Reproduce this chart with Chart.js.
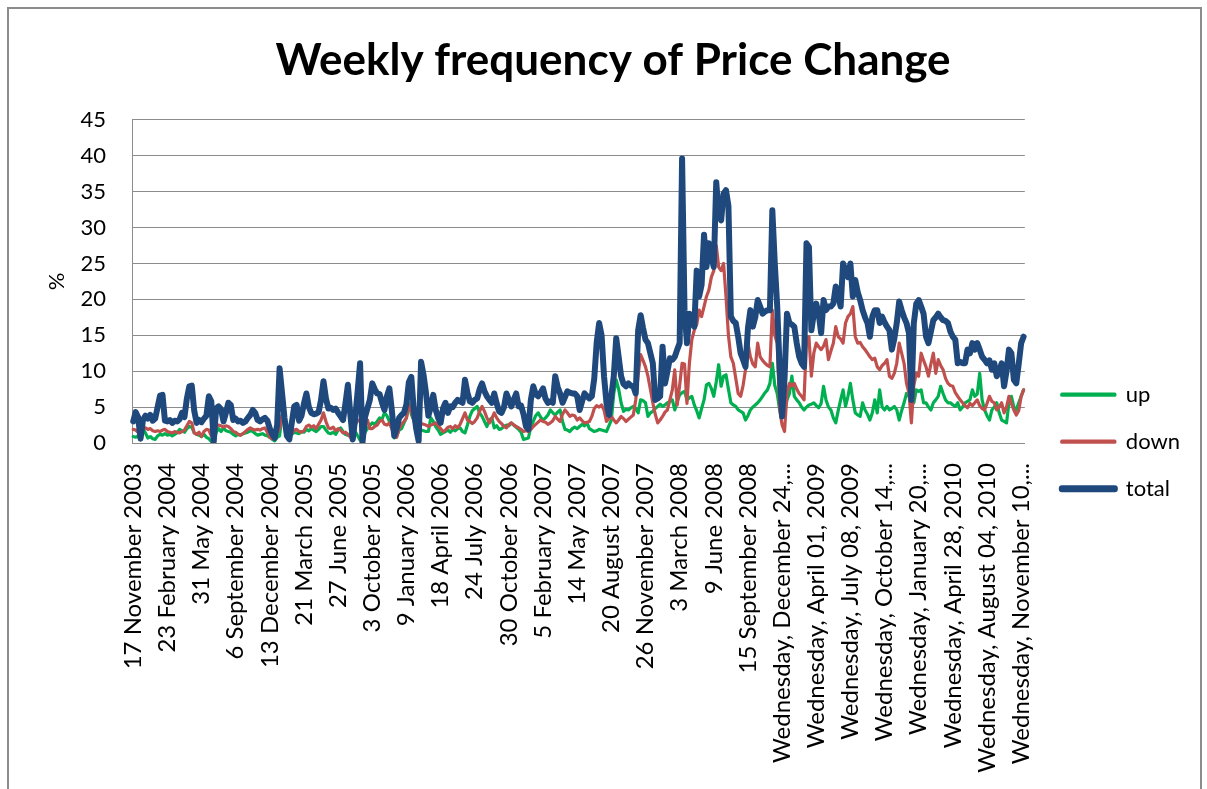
<!DOCTYPE html>
<html>
<head>
<meta charset="utf-8">
<title>Weekly frequency of Price Change</title>
<script src="https://cdn.jsdelivr.net/npm/chart.js@4.4.0/dist/chart.umd.min.js"></script>
<style>
  html, body { margin: 0; padding: 0; background: #fff; }
  body { width: 1207px; height: 789px; overflow: hidden; position: relative; }
  #frame { position: absolute; left: 7px; top: 7px; width: 1191px; height: 900px; border: 2px solid #8c8c8c; }
  #chart { position: absolute; left: 0; top: 0; }
</style>
</head>
<body>
<div id="frame"></div>
<canvas id="chart" width="1207" height="789"></canvas>
<script>
// Tick labels, one every 14 weeks
const tickLabels = [
    '17 November 2003', '23 February 2004', '31 May 2004', '6 September 2004', '13 December 2004',
    '21 March 2005', '27 June 2005', '3 October 2005', '9 January 2006', '18 April 2006',
    '24 July 2006', '30 October 2006', '5 February 2007', '14 May 2007', '20 August 2007',
    '26 November 2007', '3 March 2008', '9 June 2008', '15 September 2008',
    'Wednesday, December 24,...', 'Wednesday, April 01, 2009', 'Wednesday, July 08, 2009',
    'Wednesday, October 14,...', 'Wednesday, January 20,...', 'Wednesday, April 28, 2010',
    'Wednesday, August 04, 2010', 'Wednesday, November 10,...'
];
const tickStep = 14;

// Weekly values in % (one row = 14 weeks)
const upData = [
    0.9, 0.8, 1.0, 0.5, 2.0, 1.4, 0.7, 0.9, 0.6, 0.5, 1.0, 1.2, 1.1, 1.3,
    1.1, 1.2, 1.0, 1.2, 1.4, 1.9, 1.7, 1.5, 2.0, 2.3, 2.2, 1.4, 1.2, 1.1,
    0.9, 1.2, 0.8, 0.6, 0.2, 0.0, 1.5, 2.0, 1.6, 2.1, 1.7, 1.6, 1.5, 1.2,
    1.0, 1.2, 1.1, 1.3, 1.4, 1.5, 1.7, 1.6, 1.3, 1.1, 1.2, 1.3, 1.1, 1.0,
    0.8, 0.5, 0.3, 0.8, 1.0, 3.9, 3.5, 1.2, 1.0, 1.2, 1.5, 1.4, 1.3, 1.6,
    1.5, 1.9, 1.7, 2.0, 1.8, 1.6, 1.9, 2.3, 2.3, 1.8, 1.4, 1.3, 1.5, 1.2,
    1.8, 2.1, 1.6, 1.2, 1.1, 1.3, 1.9, 1.6, 1.0, 0.4, 0.0, 1.5, 2.0, 2.4,
    2.8, 2.6, 3.0, 3.5, 3.3, 4.2, 3.8, 3.0, 2.5, 0.7, 1.0, 1.8, 2.0, 2.8,
    3.5, 5.6, 4.0, 3.2, 2.1, 2.0, 1.8, 1.7, 1.6, 1.6, 3.5, 3.0, 2.3, 1.8,
    1.2, 1.4, 1.6, 1.8, 1.5, 1.9, 1.7, 2.0, 2.1, 1.6, 1.4, 2.5, 3.7, 4.5,
    4.8, 5.1, 4.2, 3.7, 3.0, 2.3, 3.2, 3.5, 2.1, 2.4, 1.9, 2.0, 2.3, 2.5,
    2.4, 2.8, 2.5, 2.2, 1.9, 1.5, 0.5, 0.6, 0.7, 2.3, 3.0, 3.8, 4.2, 3.6,
    3.2, 3.5, 3.9, 4.6, 4.2, 3.9, 4.3, 4.6, 3.0, 1.9, 1.8, 1.6, 2.0, 2.2,
    2.0, 2.3, 2.6, 2.4, 2.8, 2.0, 1.8, 1.6, 1.7, 1.9, 1.8, 1.7, 1.6, 2.4,
    3.2, 6.9, 8.8, 7.5, 5.6, 4.4, 4.7, 4.6, 4.9, 5.1, 4.8, 4.2, 6.0, 5.9,
    5.6, 3.7, 4.2, 4.4, 4.8, 5.1, 5.4, 5.1, 5.3, 5.6, 5.8, 6.0, 4.6, 5.8,
    6.7, 7.0, 7.2, 6.0, 6.3, 6.5, 5.3, 4.5, 3.5, 4.8, 6.0, 8.1, 8.3, 7.6,
    6.5, 8.5, 10.9, 7.9, 9.3, 9.5, 7.5, 5.6, 5.3, 5.1, 4.6, 4.4, 4.2, 3.2,
    3.8, 4.6, 5.0, 5.3, 5.6, 6.0, 6.5, 7.0, 7.4, 8.3, 11.1, 8.0, 6.9, 4.6,
    3.7, 4.0, 6.0, 6.9, 9.3, 6.5, 6.0, 5.6, 5.0, 4.6, 5.0, 5.3, 5.4, 5.6,
    5.2, 4.9, 5.5, 7.9, 6.0, 5.0, 4.6, 3.5, 2.8, 4.5, 6.0, 7.4, 5.1, 6.5,
    8.3, 6.0, 4.2, 3.9, 3.7, 5.6, 4.6, 4.0, 3.2, 4.2, 6.0, 4.2, 7.4, 5.0,
    4.6, 5.1, 4.6, 4.8, 5.1, 4.6, 3.2, 4.5, 5.6, 6.9, 6.5, 6.2, 5.6, 7.4,
    7.2, 7.4, 5.6, 5.6, 5.0, 4.6, 5.6, 6.0, 6.5, 7.9, 6.9, 6.0, 5.6, 5.6,
    5.3, 5.1, 5.6, 4.6, 5.0, 5.6, 5.8, 6.0, 7.4, 6.5, 6.8, 9.7, 6.0, 4.6,
    3.8, 3.2, 4.6, 5.0, 5.6, 4.2, 3.2, 3.0, 2.8, 5.6, 6.5, 5.0, 4.6, 5.6,
    6.5, 7.4
];

const downData = [
    1.9, 1.8, 1.5, 1.2, 2.0, 2.1, 1.9, 2.0, 1.7, 1.6, 1.7, 1.6, 1.8, 1.9,
    1.6, 1.5, 1.4, 1.6, 1.5, 1.4, 1.6, 1.8, 2.4, 3.0, 2.8, 1.4, 1.2, 1.5,
    0.9, 1.6, 1.9, 1.8, 1.0, 0.7, 2.3, 2.5, 2.4, 2.2, 2.4, 2.3, 2.0, 1.6,
    1.5, 1.2, 1.1, 1.3, 1.6, 1.9, 2.1, 1.9, 1.8, 1.9, 1.8, 2.0, 2.1, 1.5,
    0.8, 0.6, 0.5, 1.4, 2.0, 3.8, 3.2, 1.5, 1.0, 1.3, 1.8, 1.9, 1.6, 1.5,
    1.7, 2.3, 2.5, 2.2, 2.4, 2.0, 2.6, 3.2, 4.2, 3.0, 2.1, 2.0, 2.2, 1.7,
    2.0, 1.8, 1.4, 1.5, 1.2, 0.8, 0.6, 2.5, 3.2, 3.0, 3.3, 2.9, 3.2, 2.0,
    2.0, 2.3, 2.5, 3.0, 3.2, 2.6, 2.5, 2.8, 2.0, 1.0, 0.8, 2.0, 2.6, 3.0,
    3.5, 5.3, 4.5, 3.2, 3.3, 2.8, 2.7, 2.6, 2.5, 2.3, 2.5, 2.6, 2.8, 2.4,
    2.0, 1.6, 1.8, 2.2, 2.3, 2.0, 2.4, 2.1, 2.6, 3.4, 4.2, 3.2, 3.0, 2.7,
    3.0, 3.5, 4.4, 5.1, 4.4, 3.5, 2.8, 3.4, 4.2, 3.5, 3.0, 2.7, 2.3, 2.1,
    2.6, 2.8, 2.5, 2.3, 2.1, 1.9, 1.6, 1.7, 1.6, 1.9, 2.3, 2.6, 2.9, 3.2,
    3.0, 2.9, 2.6, 2.8, 3.1, 3.7, 3.3, 3.0, 4.0, 4.6, 4.2, 3.7, 3.9, 3.8,
    3.2, 3.5, 3.1, 2.8, 2.9, 3.0, 3.7, 4.8, 5.2, 5.0, 5.3, 4.6, 3.0, 3.4,
    3.7, 3.2, 2.8, 3.2, 3.7, 3.4, 3.0, 3.3, 3.6, 3.9, 6.0, 9.5, 12.3, 11.5,
    10.6, 9.3, 7.5, 5.6, 4.0, 2.8, 3.2, 3.7, 4.3, 4.6, 6.0, 7.4, 10.2, 5.3,
    8.0, 11.1, 11.0, 5.5, 11.1, 14.4, 15.7, 16.5, 18.5, 17.6, 19.0, 20.4, 21.3, 23.1,
    24.0, 27.5, 24.5, 24.0, 25.0, 20.4, 15.0, 12.0, 11.1, 9.0, 6.9, 6.5, 8.0, 10.2,
    13.9, 12.0, 11.0, 10.6, 13.9, 12.0, 11.5, 11.1, 10.8, 10.6, 18.5, 15.0, 13.9, 4.6,
    2.5, 1.6, 7.0, 8.3, 7.9, 8.3, 7.5, 6.9, 6.5, 6.0, 14.4, 14.8, 9.3, 12.5,
    13.9, 13.4, 13.0, 13.5, 14.4, 11.6, 12.8, 13.9, 16.2, 14.8, 14.5, 13.9, 16.7, 17.6,
    18.0, 19.0, 14.8, 13.9, 14.0, 13.4, 13.0, 12.5, 12.0, 11.6, 11.8, 10.6, 10.2, 10.8,
    11.1, 11.6, 9.3, 9.0, 9.7, 11.1, 13.9, 12.5, 11.1, 8.3, 7.0, 2.8, 8.0, 9.7,
    9.3, 12.5, 11.5, 10.6, 9.3, 11.0, 12.5, 9.7, 11.6, 10.8, 10.2, 9.0, 8.3, 8.0,
    7.9, 7.0, 6.5, 6.0, 5.6, 5.2, 4.9, 5.5, 5.2, 5.6, 6.0, 5.2, 4.8, 4.6,
    5.5, 6.5, 5.8, 5.6, 4.6, 5.0, 5.6, 4.2, 5.0, 6.5, 5.5, 4.6, 3.9, 4.5,
    6.5, 7.4
];

const totalData = [
    3.0, 4.3, 3.6, 0.6, 3.2, 3.8, 3.4, 3.9, 3.1, 3.4, 5.0, 6.6, 6.7, 3.1,
    3.0, 3.2, 2.8, 3.1, 3.0, 3.3, 4.2, 3.6, 6.2, 7.9, 8.0, 4.5, 2.8, 3.2,
    2.9, 3.4, 3.8, 6.5, 5.8, 0.2, 4.8, 5.1, 4.7, 3.0, 4.2, 5.6, 5.3, 3.2,
    3.4, 3.0, 3.1, 2.8, 3.0, 3.5, 3.9, 4.6, 4.2, 3.2, 3.0, 3.3, 3.5, 3.1,
    2.0, 1.2, 0.7, 2.5, 10.4, 7.0, 3.5, 1.0, 0.5, 2.8, 5.1, 5.3, 3.1, 3.8,
    5.5, 6.9, 5.0, 4.2, 4.0, 4.1, 4.3, 6.0, 8.6, 6.2, 4.8, 4.9, 4.6, 4.8,
    4.2, 3.7, 3.2, 5.5, 8.1, 4.0, 0.5, 3.5, 7.2, 11.1, 0.1, 3.6, 4.8, 6.0,
    8.3, 7.5, 6.9, 6.8, 5.6, 4.6, 6.5, 7.6, 4.6, 1.0, 2.0, 3.5, 3.9, 4.2,
    5.4, 8.5, 9.2, 4.6, 2.0, 0.3, 11.3, 9.5, 7.0, 3.8, 5.0, 6.7, 4.6, 3.5,
    2.8, 4.8, 5.6, 4.2, 5.1, 5.0, 5.6, 6.0, 5.8, 5.6, 8.8, 7.0, 5.8, 5.6,
    6.0, 6.2, 7.5, 8.3, 7.2, 6.5, 6.0, 5.6, 6.9, 5.5, 4.4, 4.2, 5.0, 6.9,
    6.0, 5.1, 6.0, 6.9, 5.1, 5.2, 4.0, 2.3, 1.9, 6.0, 7.9, 6.8, 6.5, 7.0,
    7.6, 6.2, 5.6, 5.8, 5.6, 9.3, 7.8, 6.9, 5.6, 6.4, 7.2, 7.0, 6.9, 6.9,
    6.5, 4.6, 5.8, 6.9, 6.5, 6.2, 6.5, 9.0, 14.0, 16.7, 15.0, 9.3, 5.6, 3.9,
    6.5, 9.3, 14.6, 12.0, 9.3, 8.2, 7.9, 8.3, 8.0, 7.9, 6.9, 15.7, 17.8, 16.0,
    14.4, 13.9, 12.5, 11.1, 6.0, 6.2, 6.5, 13.4, 8.3, 10.0, 11.8, 11.6, 12.0, 13.0,
    13.9, 39.6, 18.5, 13.9, 18.0, 17.0, 16.2, 24.0, 20.4, 22.0, 29.0, 24.5, 27.8, 26.0,
    24.5, 36.3, 32.0, 31.0, 34.7, 35.2, 33.0, 17.6, 17.0, 16.7, 14.8, 12.5, 11.6, 10.6,
    16.0, 18.5, 16.2, 17.5, 19.9, 19.0, 18.0, 18.3, 18.5, 18.5, 32.4, 25.0, 19.0, 10.2,
    3.7, 9.0, 18.0, 16.7, 16.5, 16.2, 13.9, 12.0, 11.1, 10.6, 27.8, 27.3, 15.7, 18.0,
    19.4, 18.0, 15.3, 19.9, 18.5, 19.0, 19.0, 19.4, 21.8, 20.5, 19.0, 25.0, 24.0, 23.1,
    25.0, 20.4, 22.7, 21.0, 19.9, 18.5, 17.5, 16.7, 14.8, 17.6, 18.5, 18.5, 16.7, 17.6,
    16.8, 16.2, 15.7, 13.0, 14.5, 16.7, 19.7, 18.5, 17.5, 16.7, 15.3, 6.0, 16.7, 19.4,
    19.9, 19.0, 18.0, 14.8, 13.9, 15.5, 17.1, 17.5, 18.0, 17.5, 17.1, 17.0, 16.7, 15.5,
    14.8, 14.4, 11.1, 11.3, 11.1, 11.1, 13.0, 12.5, 13.9, 13.0, 13.9, 13.0, 12.0, 11.6,
    11.1, 11.5, 10.2, 11.1, 9.3, 10.0, 11.1, 7.9, 10.0, 13.0, 12.5, 8.8, 8.3, 11.0,
    13.9, 14.8
];

// one category per week, only every 14th gets a label
const weekLabels = totalData.map((v, i) => i % tickStep === 0 ? tickLabels[i / tickStep] : '');

const font = 'Lato';
const gridColor = '#8c8c8c';

new Chart(document.getElementById('chart'), {
    type: 'line',
    data: {
        labels: weekLabels,
        datasets: [
            { label: 'up', data: upData, borderColor: '#00B050', backgroundColor: '#00B050', borderWidth: 3.2, order: 3 },
            { label: 'down', data: downData, borderColor: '#C0504D', backgroundColor: '#C0504D', borderWidth: 3.2, order: 2 },
            { label: 'total', data: totalData, borderColor: '#1F497D', backgroundColor: '#1F497D', borderWidth: 6, order: 1 }
        ]
    },
    options: {
        responsive: false,
        animation: false,
        devicePixelRatio: 1,
        elements: {
            point: { radius: 0 },
            line: { tension: 0, fill: false, borderJoinStyle: 'round', borderCapStyle: 'round' }
        },
        layout: { padding: { left: 36, right: 17, top: 0, bottom: 0 } },
        plugins: {
            title: {
                display: true,
                text: 'Weekly frequency of Price Change',
                color: '#000',
                font: { family: font, size: 44, weight: 'bold', lineHeight: 1.2 },
                padding: { top: 34, bottom: 33 }
            },
            legend: {
                position: 'right',
                align: 'center',
                reverse: true,
                // empty title only pushes the items down
                title: { display: true, text: ' ', padding: 40, font: { size: 12 } },
                labels: { boxWidth: 53, boxHeight: 1, padding: 25, color: '#000', font: { family: font, size: 22 } }
            },
            tooltip: { enabled: false }
        },
        scales: {
            x: {
                offset: true,
                grid: { display: false, drawTicks: false },
                border: { color: gridColor, width: 1 },
                ticks: { autoSkip: false, minRotation: 90, maxRotation: 90, padding: 20, color: '#000', font: { family: font, size: 24 } },
                afterFit: (s) => { s.height = 346; }
            },
            y: {
                min: 0,
                max: 45,
                grid: { color: gridColor, lineWidth: 1, drawTicks: false },
                border: { color: gridColor, width: 1 },
                ticks: { stepSize: 5, padding: 26, color: '#000', font: { family: font, size: 22 } },
                title: { display: true, text: '%', color: '#000', font: { family: font, size: 22 }, padding: { top: 8, bottom: 0 } },
                afterFit: (s) => { s.width = 96; }
            },
            // spacer between plot and legend
            y2: {
                type: 'linear',
                position: 'right',
                grid: { display: false, drawTicks: false },
                border: { display: false },
                ticks: { display: false },
                afterFit: (s) => { s.width = 12; }
            }
        }
    }
});
</script>
</body>
</html>
